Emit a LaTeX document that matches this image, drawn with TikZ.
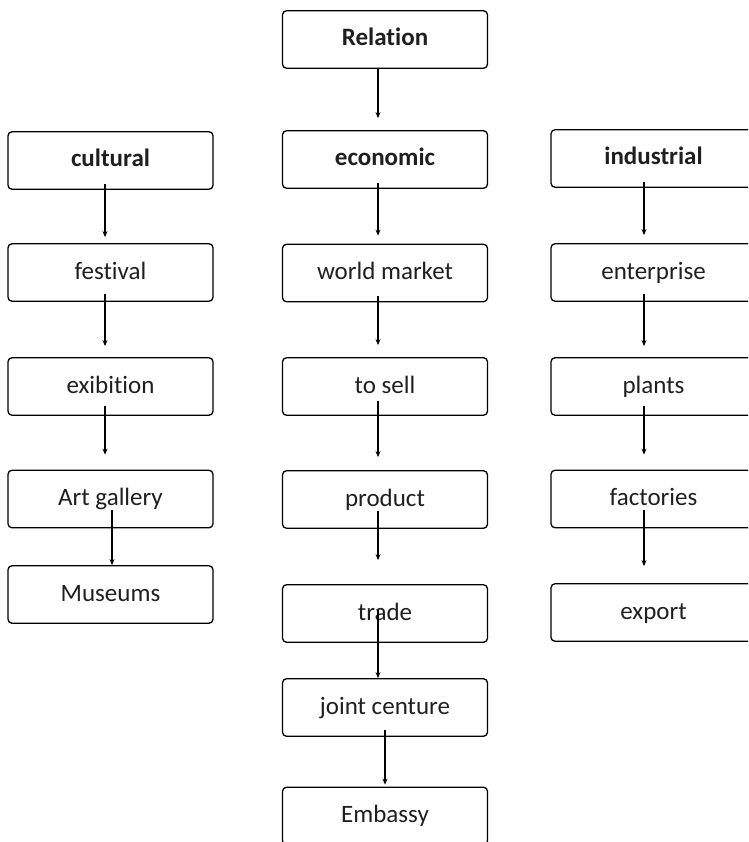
\documentclass[tikz,border=0pt]{standalone}
\usepackage{fontspec}
\setmainfont[Ligatures=NoCommon]{Carlito}
\usetikzlibrary{calc,arrows.meta}
\tikzset{
  box/.style={draw=black, line width=1.3pt, rounded corners=4pt, minimum width=205pt,
    minimum height=57.5pt, inner sep=0pt, text height=16pt, text depth=3pt,
    font=\fontsize{25}{30}\selectfont, text=black!88},
  boldbox/.style={box, font=\fontsize{25}{30}\selectfont\bfseries},
  arr/.style={line width=1.3pt, -{Stealth[length=6pt,width=5pt]}}
}
\begin{document}
\begin{tikzpicture}[x=1pt,y=-1pt]
\useasboundingbox (0,0) rectangle (748,842);
\clip (0,0) rectangle (748,842);
% top
\node[boldbox] (rel) at (385,39.5) {Relation};
% column 1
\node[boldbox] (cul) at (110.5,160.5) {cultural};
\node[box] (fes) at (110.5,272.5) {festival};
\node[box] (exi) at (110.5,386.5) {exibition};
\node[box] (art) at (110.5,499) {Art gallery};
\node[box] (mus) at (110.5,594.5) {Museums};
% column 2
\node[boldbox] (eco) at (385,159.5) {economic};
\node[box] (wor) at (385,273) {world market};
\node[box] (sel) at (385,386.5) {to sell};
\node[box] (pro) at (385,499.5) {product};
\node[box] (tra) at (385,613.5) {trade};
\node[box] (joi) at (385,707.5) {joint centure};
\node[box] (emb) at (385,816) {Embassy};
% column 3
\node[boldbox] (ind) at (653.5,158.5) {industrial};
\node[box] (ent) at (653.5,272.5) {enterprise};
\node[box] (pla) at (653.5,386.5) {plants};
\node[box] (fac) at (653.5,499) {factories};
\node[box] (exp) at (653.5,612.5) {export};
% connectors
\draw[arr] ($(rel.south)+(-7,0)$) -- ($(eco.north)+(-7,-12)$);
\draw[arr] ($(cul.south)+(-5.5,-6)$) -- ($(fes.north)+(-5.5,-6)$);
\draw[arr] ($(fes.south)+(-5.5,-8)$) -- ($(exi.north)+(-5.5,-11)$);
\draw[arr] ($(exi.south)+(-5.5,-10)$) -- ($(art.north)+(-5.5,-15)$);
\draw[arr] ($(art.south)+(1.5,-18)$) -- ($(mus.north)+(1.5,0)$);
\draw[arr] ($(eco.south)+(-7,-6)$) -- ($(wor.north)+(-7,-8)$);
\draw[arr] ($(wor.south)+(-7,-6)$) -- ($(sel.north)+(-7,-12)$);
\draw[arr] ($(sel.south)+(-7,-15)$) -- ($(pro.north)+(-7,-13)$);
\draw[arr] ($(pro.south)+(-7,-18)$) -- ($(tra.north)+(-7,-24)$);
\draw[arr] ($(tra.south)+(-7,-33)$) -- ($(joi.north)+(-7,0)$);
\draw[arr] ($(joi.south)+(0,-7)$) -- ($(emb.north)+(0,-2)$);
\draw[arr] ($(ind.south)+(-9.5,-6)$) -- ($(ent.north)+(-9.5,-8)$);
\draw[arr] ($(ent.south)+(-9.5,-8)$) -- ($(pla.north)+(-9.5,-11)$);
\draw[arr] ($(pla.south)+(-9.5,-10)$) -- ($(fac.north)+(-9.5,-15)$);
\draw[arr] ($(fac.south)+(-9.5,-18)$) -- ($(exp.north)+(-9.5,-17)$);
\end{tikzpicture}
\end{document}
